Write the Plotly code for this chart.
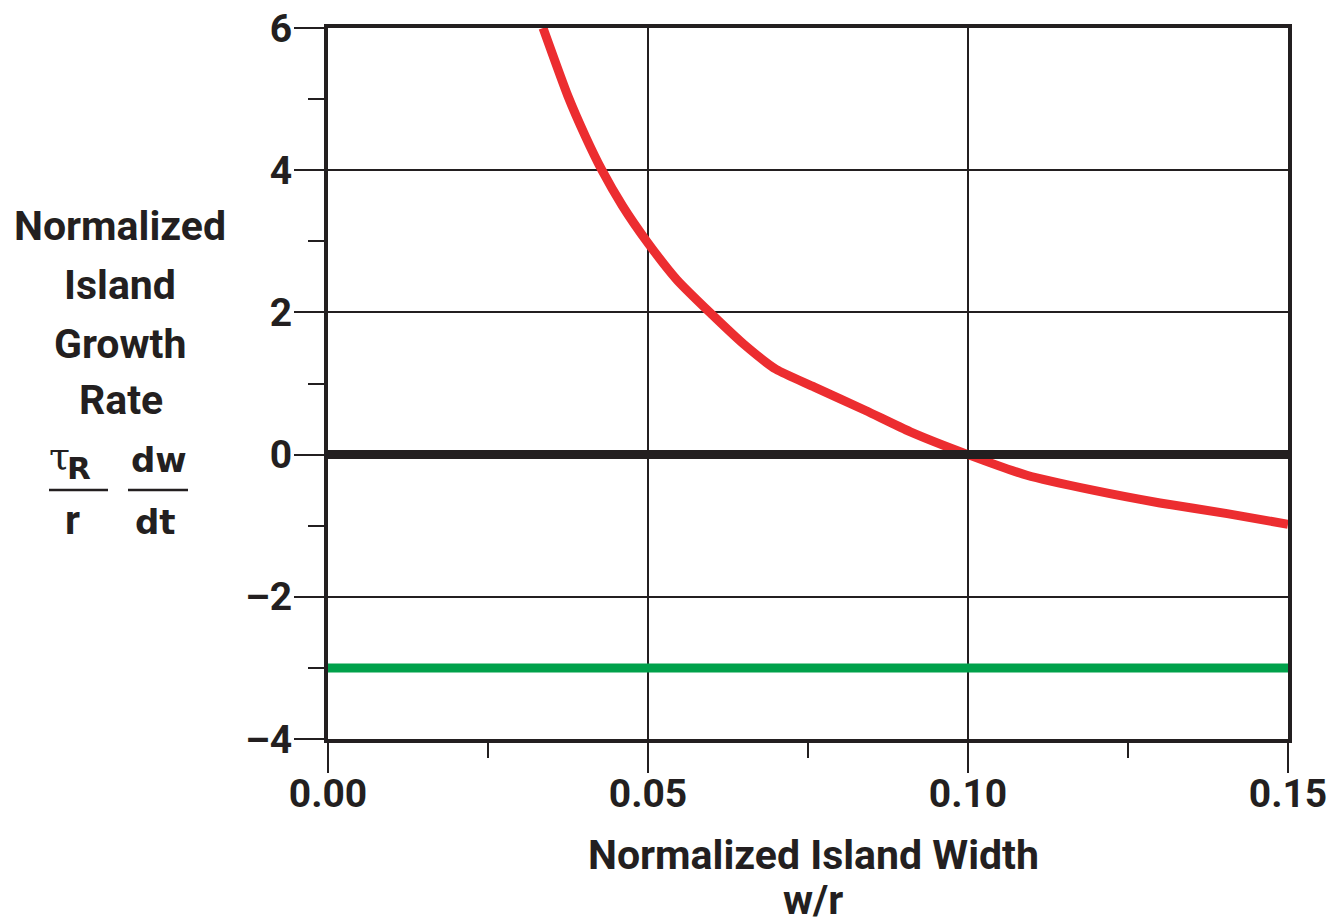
import plotly.graph_objects as go

# Island width (w/r) and normalized growth rate of the red curve
width_pts = [0.0336, 0.0375, 0.0402, 0.0428, 0.0460, 0.0498, 0.0545, 0.0600, 0.0650,
             0.0700, 0.0760, 0.0840, 0.0910, 0.1000, 0.1092, 0.1195, 0.1300, 0.1405, 0.1500]
growth_pts = [6.00, 5.04, 4.48, 4.00, 3.50, 3.00, 2.46, 1.97, 1.55,
              1.20, 0.95, 0.62, 0.32, 0.00, -0.29, -0.50, -0.68, -0.83, -0.98]

# Reference levels
zero_level = [0.0, 0.0]
green_level = [-3.0, -3.0]
level_x = [0.0, 0.15]

x_ticks = [0.0, 0.05, 0.10, 0.15]
x_tick_text = ["0.00", "0.05", "0.10", "0.15"]
y_ticks = [-4, -2, 0, 2, 4, 6]
y_tick_text = ["\u20134", "\u20132", "0", "2", "4", "6"]

INK = "#231f20"
RED = "#ec2d30"
GREEN = "#00a14b"
SANS = "Roboto, Liberation Sans, sans-serif"
FS = 41
TICK_FS = 39

fig = go.Figure()

fig.add_trace(go.Scatter(x=level_x, y=green_level, mode="lines",
                         line=dict(color=GREEN, width=9), showlegend=False))
fig.add_trace(go.Scatter(x=width_pts, y=growth_pts, mode="lines",
                         line=dict(color=RED, width=9, shape="spline", smoothing=0.6),
                         showlegend=False))
fig.add_trace(go.Scatter(x=level_x, y=zero_level, mode="lines",
                         line=dict(color=INK, width=9), showlegend=False))

W, H = 1327, 924
L, R, T, B = 328, 39, 28, 185
PW, PH = W - L - R, H - T - B


def px(x):
    return (x - L) / PW


def py(y):
    return (H - B - y) / PH


fig.update_layout(
    width=W, height=H,
    margin=dict(l=L, r=R, t=T, b=B),
    paper_bgcolor="white", plot_bgcolor="white",
    font=dict(family=SANS, color=INK),
    showlegend=False,
)

common = dict(
    showline=True, mirror=True, linewidth=4, linecolor=INK,
    ticks="outside", ticklen=30, tickwidth=2, tickcolor=INK,
    showgrid=True, gridcolor=INK, gridwidth=2, zeroline=False,
    automargin=False, ticklabeloverflow="allow",
    tickfont=dict(family=SANS, size=TICK_FS, color=INK, weight="bold"),
)

fig.update_xaxes(
    range=[0, 0.15], tickvals=x_ticks, ticktext=x_tick_text,
    minor=dict(dtick=0.025, tick0=0, ticks="outside", ticklen=15, tickwidth=2,
               tickcolor=INK, showgrid=False),
    ticklabelstandoff=-13,
    **common,
)
fig.update_yaxes(
    range=[-4, 6], tickvals=y_ticks, ticktext=y_tick_text,
    minor=dict(dtick=1, tick0=0, ticks="outside", ticklen=16, tickwidth=2,
               tickcolor=INK, showgrid=False),
    ticklabelstandoff=-6,
    **common,
)

ann = []


def label(text, cx, cy, size=FS, family=SANS):
    ann.append(dict(text=text, x=px(cx), y=py(cy), xref="paper", yref="paper",
                    xanchor="center", yanchor="middle", showarrow=False,
                    font=dict(family=family, size=size, color=INK, weight="bold")))


# x-axis title
label("Normalized Island Width", 813, 855)
label("w/r", 813, 900)

# y-axis title
label("Normalized", 120, 226)
label("Island", 120, 285)
label("Growth", 120, 344)
label("Rate", 121, 400)

# tau_R / r  dw/dt
ann.append(dict(text="\u03c4", x=px(59), y=py(456), xref="paper", yref="paper",
                xanchor="center", yanchor="middle", showarrow=False,
                font=dict(family="DejaVu Serif, serif", size=38, color=INK)))
label("R", 79, 468, size=31, family="DejaVu Sans, sans-serif")
label("r", 72, 520)
label("dw", 159, 460, size=34, family="DejaVu Sans, sans-serif")
label("dt", 155, 522, size=34, family="DejaVu Sans, sans-serif")

fig.update_layout(annotations=ann)

for x0, x1 in [(49, 108), (128, 188)]:
    fig.add_shape(type="line", xref="paper", yref="paper",
                  x0=px(x0), x1=px(x1), y0=py(490), y1=py(490),
                  line=dict(color=INK, width=2.5))

fig.write_html("out.html")
